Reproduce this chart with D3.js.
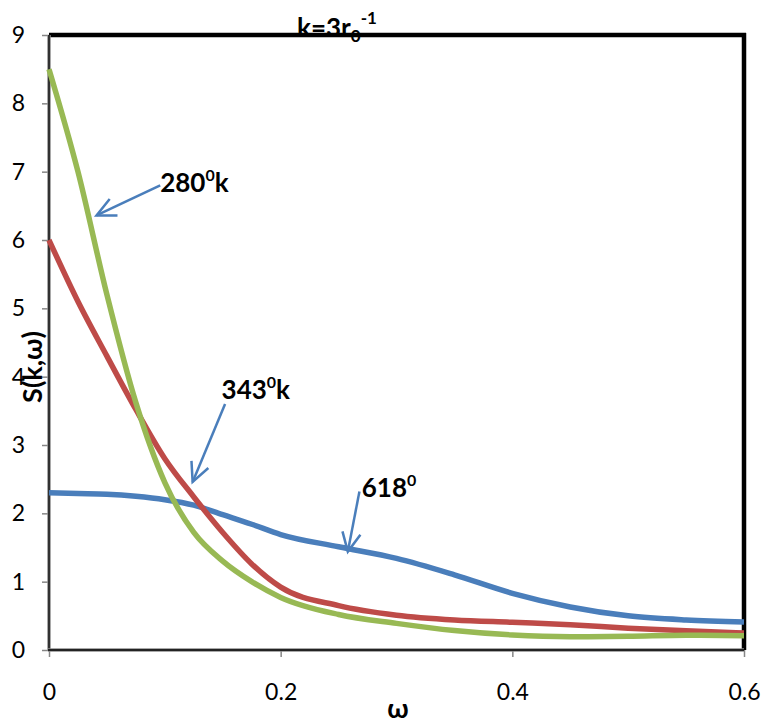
<!DOCTYPE html>
<html lang="en">
<head>
    <meta charset="UTF-8">
    <title>S(k,w)</title>
    <script src="https://d3js.org/d3.v7.min.js"></script>
    <style>
        body { margin: 0; background: #fff; }
        text { font-family: Lato, "Open Sans", sans-serif; }
    </style>
</head>
<body>
<script type="text/javascript">

var w = 762;
var h = 720;

// omega values shared by the three curves
var omega = [0, 0.025, 0.05, 0.075, 0.1, 0.125, 0.15, 0.175, 0.2, 0.25, 0.3, 0.35, 0.4, 0.45, 0.5, 0.55, 0.6];

var s280 = [8.5, 7.0, 5.2, 3.62, 2.45, 1.72, 1.3, 1.0, 0.77, 0.52, 0.39, 0.285, 0.22, 0.195, 0.2, 0.215, 0.21];
var s343 = [6.0, 5.1, 4.3, 3.52, 2.8, 2.24, 1.72, 1.26, 0.92, 0.65, 0.51, 0.44, 0.405, 0.37, 0.32, 0.28, 0.25];
var s618 = [2.3, 2.29, 2.28, 2.25, 2.2, 2.12, 1.98, 1.84, 1.69, 1.51, 1.34, 1.1, 0.83, 0.63, 0.5, 0.44, 0.41];

var xTicks = [0, 0.2, 0.4, 0.6];
var yTicks = [0, 1, 2, 3, 4, 5, 6, 7, 8, 9];

var series = [
    {name: "618", values: s618, color: "#4a7ebb"},
    {name: "343", values: s343, color: "#be4b48"},
    {name: "280", values: s280, color: "#98b954"}
];

// arrow annotations: label text, label position, arrow start, arrow tip (data units)
var notes = [
    {label: "280", sup: "0", tail: "k", lx: 0.096, ly: 6.7, from: [0.096, 6.8], to: [0.041, 6.36]},
    {label: "343", sup: "0", tail: "k", lx: 0.149, ly: 3.68, from: [0.152, 3.6], to: [0.124, 2.46]},
    {label: "618", sup: "0", tail: "", lx: 0.270, ly: 2.24, from: [0.268, 2.32], to: [0.258, 1.44]}
];

var x = d3.scaleLinear().domain([0, 0.6]).range([49, 744]);
var y = d3.scaleLinear().domain([0, 9]).range([650, 35]);

var svg = d3.select("body")
    .append("svg")
    .attr("width", w)
    .attr("height", h);

// axes
var yAxis = d3.axisLeft(y).tickValues(yTicks).tickSize(7).tickPadding(17).tickFormat(d3.format("d"));
var xAxis = d3.axisBottom(x).tickValues(xTicks).tickSize(7).tickPadding(27).tickFormat(function(d) {return d === 0 ? "0" : d3.format(".1f")(d);});

var gy = svg.append("g").attr("transform", "translate(" + x(0) + ",0)").call(yAxis);
var gx = svg.append("g").attr("transform", "translate(0," + y(0) + ")").call(xAxis);

[gx, gy].forEach(function(g) {
    g.select(".domain").remove();
    g.selectAll(".tick line").attr("stroke", "#868686").attr("stroke-width", 1.5);
    g.selectAll(".tick text").attr("font-size", 23).attr("fill", "#000").attr("font-family", "Lato, sans-serif");
});

// frame: thick black top and right
svg.append("line").attr("x1", x(0)).attr("x2", x(0.6) + 2).attr("y1", y(9)).attr("y2", y(9))
    .attr("stroke", "#000").attr("stroke-width", 4.5);
svg.append("line").attr("x1", x(0.6)).attr("x2", x(0.6)).attr("y1", y(9) - 2).attr("y2", y(0))
    .attr("stroke", "#000").attr("stroke-width", 4.5);

// left and bottom axis lines, grey edged
svg.append("line").attr("x1", x(0)).attr("x2", x(0)).attr("y1", y(9)).attr("y2", y(0) + 1)
    .attr("stroke", "#8c8c8c").attr("stroke-width", 3.5);
svg.append("line").attr("x1", x(0)).attr("x2", x(0)).attr("y1", y(9)).attr("y2", y(0) + 1)
    .attr("stroke", "#000").attr("stroke-width", 1.3);
svg.append("line").attr("x1", x(0) - 1).attr("x2", x(0.6)).attr("y1", y(0)).attr("y2", y(0))
    .attr("stroke", "#8c8c8c").attr("stroke-width", 3.5);
svg.append("line").attr("x1", x(0) - 1).attr("x2", x(0.6)).attr("y1", y(0)).attr("y2", y(0))
    .attr("stroke", "#000").attr("stroke-width", 1.3);

// curves
var line = d3.line()
    .x(function(d) {return x(d[0]);})
    .y(function(d) {return y(d[1]);})
    .curve(d3.curveMonotoneX);

svg.selectAll("path.curve")
    .data(series)
    .enter()
    .append("path")
    .attr("class", "curve")
    .attr("d", function(s) {return line(omega.map(function(o, i) {return [o, s.values[i]];}));})
    .attr("fill", "none")
    .attr("stroke", function(s) {return s.color;})
    .attr("stroke-width", 5.5)
    .attr("stroke-linejoin", "round");

// annotations
notes.forEach(function(n) {
    var x1 = x(n.from[0]), y1 = y(n.from[1]);
    var x2 = x(n.to[0]), y2 = y(n.to[1]);
    svg.append("line")
        .attr("x1", x1).attr("y1", y1).attr("x2", x2).attr("y2", y2)
        .attr("stroke", "#4a7ebb").attr("stroke-width", 2.5);
    var ang = Math.atan2(y1 - y2, x1 - x2);
    var len = 21, spread = 0.45;
    var head = [
        [x2 + len * Math.cos(ang - spread), y2 + len * Math.sin(ang - spread)],
        [x2, y2],
        [x2 + len * Math.cos(ang + spread), y2 + len * Math.sin(ang + spread)]
    ];
    svg.append("path")
        .attr("d", d3.line()(head))
        .attr("fill", "none")
        .attr("stroke", "#4a7ebb")
        .attr("stroke-width", 2.5);

    var t = svg.append("text")
        .attr("x", x(n.lx))
        .attr("y", y(n.ly))
        .attr("font-size", 26)
        .attr("font-weight", "bold")
        .attr("fill", "#000");
    t.append("tspan").text(n.label);
    t.append("tspan").text(n.sup).attr("font-size", 16).attr("dy", -11);
    t.append("tspan").text(n.tail).attr("dy", 11);
});

// title
var title = svg.append("text")
    .attr("x", 297)
    .attr("y", 37)
    .attr("font-size", 26)
    .attr("font-weight", "bold")
    .attr("fill", "#000");
title.append("tspan").text("k=3r");
title.append("tspan").text("0").attr("font-size", 17).attr("dy", 5);
title.append("tspan").text("-1").attr("font-size", 17).attr("dy", -18);

// axis titles
svg.append("text")
    .attr("transform", "translate(42," + 367 + ") rotate(-90)")
    .attr("text-anchor", "middle")
    .attr("font-size", 27)
    .attr("font-weight", "bold")
    .attr("fill", "#000")
    .text("S(k,ω)");

svg.append("text")
    .attr("x", 398)
    .attr("y", 718)
    .attr("text-anchor", "middle")
    .attr("font-size", 27)
    .attr("font-weight", "bold")
    .attr("fill", "#000")
    .text("ω");

</script>
</body>
</html>
